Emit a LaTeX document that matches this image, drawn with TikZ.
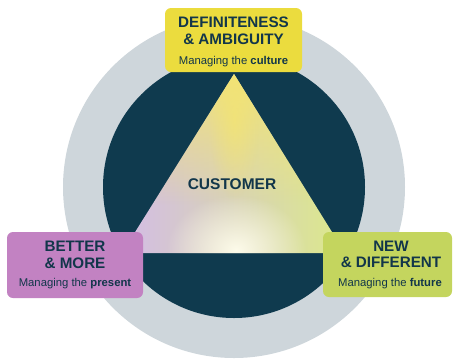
\documentclass[tikz,border=0pt]{standalone}
\usepackage{fontspec}
\setmainfont{Liberation Sans}
\usetikzlibrary{fadings}

\definecolor{ringGrey}{HTML}{CED6DB}
\definecolor{coreNavy}{HTML}{0F3A4E}
\definecolor{inkNavy}{HTML}{12364A}
\definecolor{boxYellow}{HTML}{EBDC3E}
\definecolor{boxOrchid}{HTML}{C282C2}
\definecolor{boxLime}{HTML}{C4D55E}
\definecolor{triYellow}{HTML}{F6E66C}
\definecolor{triLilac}{HTML}{D3BCE6}
\definecolor{triCream}{HTML}{FDFBEA}
\definecolor{triLime}{HTML}{DCE98A}

\tikzfading[name=glow,inner color=transparent!0,outer color=transparent!100]

\begin{document}
\begin{tikzpicture}[x=1pt,y=-1pt,
    pillar/.style={rounded corners=6pt,inner sep=0pt},
    head/.style={inner sep=0pt,align=center,text=inkNavy,
      font=\bfseries\fontsize{15.2}{16.5}\selectfont},
    sub/.style={inner sep=0pt,text=inkNavy,font=\fontsize{11.3}{13}\selectfont}]
  \useasboundingbox (0,0) rectangle (455,360);
  % rings
  \fill[ringGrey] (234,187) circle (171);
  \fill[coreNavy] (234,187) circle (131);
  % triangle with soft colour wash
  \coordinate (apex) at (234,74);
  \coordinate (lft) at (122,253);
  \coordinate (rgt) at (345,253);
  \begin{scope}
    \clip (apex) -- (lft) -- (rgt) -- cycle;
    \shade[left color=triLilac,middle color=triCream,right color=triLime]
      (122,74) rectangle (345,253);
    \fill[triYellow,path fading=south,fill opacity=0.85] (122,74) rectangle (345,205);
    \fill[triYellow,path fading=glow,fill opacity=0.6] (234,120) ellipse (26 and 80);
    \fill[triCream,path fading=glow] (236,250) ellipse (70 and 55);
  \end{scope}
  \node[head,font=\bfseries\fontsize{15.5}{17}\selectfont] (cust) at (232,184) {CUSTOMER};
  % top
  \node[pillar,fill=boxYellow,minimum width=137,minimum height=64] (cult) at (233.5,40) {};
  \node[head] (cult-t) at (233.5,31) {DEFINITENESS\\\& AMBIGUITY};
  \node[sub] (cult-s) at (233.5,61.5) {Managing the \textbf{culture}};
  % left
  \node[pillar,fill=boxOrchid,minimum width=136,minimum height=66] (pres) at (75,265) {};
  \node[head] (pres-t) at (75,255) {BETTER\\\& MORE};
  \node[sub] (pres-s) at (75,283.5) {Managing the \textbf{present}};
  % right
  \node[pillar,fill=boxLime,minimum width=129,minimum height=65] (fut) at (387.5,264.5) {};
  \node[head] (fut-t) at (391,254.5) {NEW\\\& DIFFERENT};
  \node[sub] (fut-s) at (390,284) {Managing the \textbf{future}};
\end{tikzpicture}
\end{document}
